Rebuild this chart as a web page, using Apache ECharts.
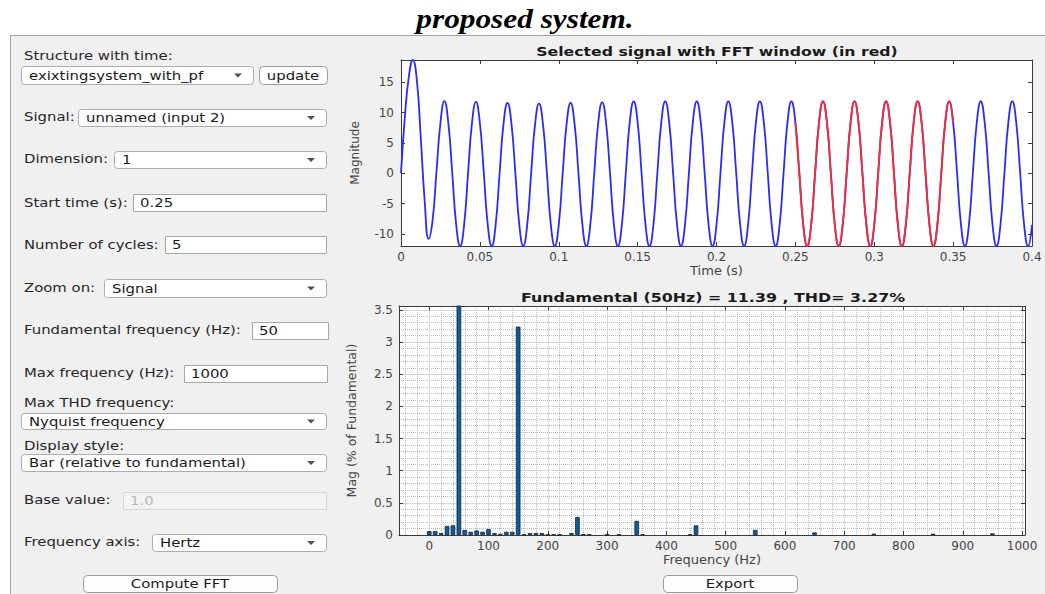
<!DOCTYPE html>
<html>
<head>
<meta charset="utf-8">
<script src="https://cdn.jsdelivr.net/npm/echarts@6/dist/echarts.min.js"></script>
<style>
html,body{margin:0;padding:0;background:#fff;}
#wrap{position:relative;width:1045px;height:594px;overflow:hidden;background:#fff;}
#panel{position:absolute;left:10px;top:35px;width:1035px;height:559px;background:#f0f0f0;border-top:1px solid #a3a3a3;border-left:1px solid #a3a3a3;box-sizing:border-box;}
#chart{position:absolute;left:0;top:0;width:1045px;height:594px;}
</style>
</head>
<body>
<div id="wrap"><div id="panel"></div><div id="chart"></div></div>
<script>
// ---------------- data ----------------
// Signal sampled every SAMPLE_STEP seconds (t = 0 ... 0.4 s)
const SAMPLE_STEP = 0.0025;
const signalValues = [
  0, 9.5, 16, 18.7, 15.5, 6, -4.5, -10.8,
  -7.8, 0.3, 8.3, 11.9, 8.3, 0, -8.5, -12,
  -8.5, 0, 8.3, 11.8, 8.3, 0, -8.5, -12,
  -8.5, 0, 8.2, 11.6, 8.2, 0, -8.5, -12,
  -8.5, 0, 8.1, 11.5, 8.1, 0, -8.5, -12,
  -8.5, 0, 8.2, 11.6, 8.2, 0, -8.5, -12,
  -8.5, 0, 8.3, 11.7, 8.3, 0, -8.5, -12,
  -8.5,
  0, 8.4, 11.85, 8.4, 0, -8.5, -12, -8.5,
  0, 8.4, 11.85, 8.4, 0, -8.5, -12, -8.5,
  0, 8.4, 11.85, 8.4, 0, -8.5, -12, -8.5,
  0, 8.4, 11.85, 8.4, 0, -8.5, -12, -8.5,
  0, 8.4, 11.85, 8.4, 0, -8.5, -12, -8.5,
  0, 8.4, 11.85, 8.4, 0, -8.5, -12, -8.5,
  0, 8.4, 11.85, 8.4, 0, -8.5, -12, -8.5,
  0, 8.4, 11.85, 8.4, 0, -8.5, -12, -8.5,
  0, 8.4, 11.85, 8.4, 0, -8.5, -12, -8.5,
  0, 8.4, 11.85, 8.4, 0, -8.5, -12, -8.5,
  0, 8.4, 11.85, 8.4, 0, -8.5, -12, -8.5,
  0, 8.4, 11.85, 8.4, 0, -8.5, -12, -8.5,
  0, 8.4, 11.85, 8.4, 0, -8.5, -12, -8.5
];
const FUNDAMENTAL_HZ = 50;
const WINDOW_START = 0.25;
const WINDOW_CYCLES = 5;
const FUND_MAG = 11.39;
const THD_PCT = 3.27;

// FFT magnitudes (% of fundamental), one per FREQ_RESOLUTION Hz bin, 0 ... 1000 Hz
const FREQ_RESOLUTION = 10;
const harmonicMag = [
  0.06, 0.06, 0.03, 0.14, 0.15, 100, 0.08, 0.05, 0.07, 0.05,   // 0-90
  0.09, 0.03, 0.02, 0.05, 0.05, 3.24, 0.01, 0.03, 0.03, 0.03,  // 100-190
  0.01, 0.01, 0.01, 0, 0.03, 0.28, 0.015, 0.01, 0, 0,          // 200-290
  0.008, 0, 0.006, 0, 0, 0.22, 0.01, 0, 0, 0,                  // 300-390
  0, 0, 0, 0, 0.01, 0.15, 0, 0, 0, 0,                          // 400-490
  0, 0, 0, 0, 0, 0.08, 0, 0, 0, 0,                             // 500-590
  0, 0, 0, 0, 0, 0.04, 0, 0, 0, 0,                             // 600-690
  0, 0, 0, 0, 0, 0.02, 0, 0, 0, 0,                             // 700-790
  0, 0, 0, 0, 0, 0.02, 0, 0, 0, 0,                             // 800-890
  0, 0, 0, 0, 0, 0.025, 0, 0, 0, 0,                            // 900-990
  0                                                            // 1000
];

// ---------------- build series data ----------------
const signalData = signalValues.map((v, i) => [+(i * SAMPLE_STEP).toFixed(4), v]);
const WINDOW_END = WINDOW_START + WINDOW_CYCLES / FUNDAMENTAL_HZ;
const windowData = signalData.filter(p => p[0] >= WINDOW_START - 1e-9 && p[0] <= WINDOW_END + 1e-9);
// zero-height bins draw nothing in the original, so they are left out
const barData = harmonicMag.map((v, i) => [i * FREQ_RESOLUTION, v]).filter(p => p[1] > 0);

// ---------------- styling helpers ----------------
const FONT = 'DejaVu Sans';
const SX = 1.24;
const axisLine = { show: true, onZero: false, lineStyle: { color: '#3a3a3a', width: 1 } };
const axisTick = { show: true, inside: true, length: 4, lineStyle: { color: '#3a3a3a', width: 1 } };
const tickLabel = { color: '#444', fontFamily: FONT, fontSize: 12 };
const nameStyle = { color: '#444', fontFamily: FONT, fontSize: 13 };
const plainNum = v => String(+v.toFixed(6));

function txt(x, y, text, o) {
  o = o || {};
  const align = o.align || 'left';
  return {
    type: 'text', x: x, y: y, scaleX: o.sx || SX, z: 20,
    style: {
      text: text, font: o.font || ('12px "' + FONT + '"'), fill: o.color || '#262626',
      textAlign: align, align: align, textVerticalAlign: 'middle', verticalAlign: 'middle'
    }
  };
}
function dropdown(x, y, w, h, text) {
  const cy = y + h / 2;
  return [
    { type: 'rect', z: 10, shape: { x: x + 0.5, y: y + 0.5, width: w, height: h, r: 3 }, style: { fill: '#fff', stroke: '#adadad', lineWidth: 1 } },
    txt(x + 8, cy + 0.5, text, { color: '#1a1a1a' }),
    { type: 'polygon', z: 20, shape: { points: [[x + w - 19, cy - 1.5], [x + w - 11, cy - 1.5], [x + w - 15, cy + 2.5]] }, style: { fill: '#505050' } }
  ];
}
function editBox(x, y, w, h, text, disabled) {
  return [
    { type: 'rect', z: 10, shape: { x: x + 0.5, y: y + 0.5, width: w, height: h }, style: { fill: disabled ? '#f3f3f3' : '#fff', stroke: disabled ? '#d4d4d4' : '#a8a8a8', lineWidth: 1 } },
    txt(x + 7, y + h / 2 + 0.5, text, { color: disabled ? '#b8b8b8' : '#1a1a1a' })
  ];
}
function button(x, y, w, h, text) {
  return [
    { type: 'rect', z: 10, shape: { x: x + 0.5, y: y + 0.5, width: w, height: h, r: 4 }, style: { fill: '#fdfdfd', stroke: '#9c9c9c', lineWidth: 1 } },
    txt(x + w / 2, y + h / 2 + 0.5, text, { align: 'center', color: '#1a1a1a' })
  ];
}

const panel = [].concat(
  txt(24, 56, 'Structure with time:'),
  dropdown(21, 66, 232, 18, 'exixtingsystem_with_pf'),
  button(259, 66, 68, 18, 'update'),
  txt(24, 117, 'Signal:'),
  dropdown(78, 109, 248, 17, 'unnamed (input 2)'),
  txt(24, 159, 'Dimension:'),
  dropdown(114, 151, 212, 17, '1'),
  txt(24, 203, 'Start time (s):'),
  editBox(133, 194, 193, 17, String(WINDOW_START)),
  txt(24, 245, 'Number of cycles:'),
  editBox(165, 236, 161, 17, String(WINDOW_CYCLES)),
  txt(24, 288, 'Zoom on:'),
  dropdown(104, 279, 222, 18, 'Signal'),
  txt(24, 330, 'Fundamental frequency (Hz):'),
  editBox(252, 322, 76, 17, String(FUNDAMENTAL_HZ)),
  txt(24, 373, 'Max frequency (Hz):'),
  editBox(184, 365, 143, 17, '1000'),
  txt(24, 403, 'Max THD frequency:'),
  dropdown(21, 413, 305, 16, 'Nyquist frequency'),
  txt(24, 446, 'Display style:'),
  dropdown(21, 454, 305, 17, 'Bar (relative to fundamental)'),
  txt(24, 500, 'Base value:'),
  editBox(123, 492, 203, 17, '1.0', true),
  txt(24, 542, 'Frequency axis:'),
  dropdown(152, 534, 174, 17, 'Hertz'),
  button(83, 575, 194, 17, 'Compute FFT'),
  button(663, 575, 134, 17, 'Export'),
  // figure caption and axes titles
  txt(525, 19, 'proposed system.', { align: 'center', sx: 1.16, color: '#000', font: 'italic bold 27px "Liberation Serif"' }),
  txt(717, 51, 'Selected signal with FFT window (in red)', { align: 'center', sx: 1.21, color: '#1a1a1a', font: 'bold 13px "' + FONT + '"' }),
  txt(713, 298, 'Fundamental (' + FUNDAMENTAL_HZ + 'Hz) = ' + FUND_MAG.toFixed(2) + ' , THD= ' + THD_PCT.toFixed(2) + '%', { align: 'center', sx: 1.22, color: '#1a1a1a', font: 'bold 13px "' + FONT + '"' })
);

// ---------------- chart ----------------
const chart = echarts.init(document.getElementById('chart'), null, { renderer: 'svg', width: 1045, height: 594 });
const option = {
  animation: false,
  backgroundColor: 'transparent',
  textStyle: { fontFamily: FONT },
  grid: [
    { left: 401, top: 60, width: 631, height: 186, show: true, backgroundColor: '#fff', borderWidth: 0 },
    { left: 399, top: 306, width: 626, height: 229, show: true, backgroundColor: '#fff', borderWidth: 0 }
  ],
  xAxis: [
    { gridIndex: 0, type: 'value', position: 'bottom', min: 0, max: 0.4, interval: 0.05,
      axisLine: axisLine, axisTick: axisTick, splitLine: { show: false },
      axisLabel: Object.assign({ margin: 5, formatter: plainNum }, tickLabel),
      name: 'Time (s)', nameLocation: 'middle', nameGap: 17, nameTextStyle: nameStyle },
    { gridIndex: 0, type: 'value', position: 'top', min: 0, max: 0.4, interval: 0.05,
      axisLine: axisLine, axisTick: axisTick, splitLine: { show: false }, axisLabel: { show: false } },
    { gridIndex: 1, type: 'value', position: 'bottom', min: -51, max: 1005, splitNumber: 10,
      axisLine: axisLine, axisTick: axisTick,
      axisLabel: Object.assign({ margin: 5, showMinLabel: false, showMaxLabel: false, formatter: plainNum }, tickLabel),
      splitLine: { show: true, lineStyle: { color: '#d8d8d8', width: 1 } },
      minorTick: { show: false, splitNumber: 5 },
      minorSplitLine: { show: true, lineStyle: { color: '#bdbdbd', width: 1, type: 'dotted' } },
      name: 'Frequency (Hz)', nameLocation: 'middle', nameGap: 15, nameTextStyle: nameStyle },
    { gridIndex: 1, type: 'value', position: 'top', min: -51, max: 1005, splitNumber: 10,
      axisLine: axisLine, axisTick: axisTick, axisLabel: { show: false }, splitLine: { show: false } }
  ],
  yAxis: [
    { gridIndex: 0, type: 'value', position: 'left', min: -12, max: 18.7, splitNumber: 6,
      axisLine: axisLine, axisTick: axisTick, splitLine: { show: false },
      axisLabel: Object.assign({ margin: 7, showMinLabel: false, showMaxLabel: false, formatter: plainNum }, tickLabel),
      name: 'Magnitude', nameLocation: 'middle', nameGap: 40, nameRotate: 90, nameTextStyle: Object.assign({}, nameStyle, { fontSize: 12 }) },
    { gridIndex: 0, type: 'value', position: 'right', min: -12, max: 18.7, splitNumber: 6,
      axisLine: axisLine, axisTick: axisTick, splitLine: { show: false }, axisLabel: { show: false } },
    { gridIndex: 1, type: 'value', position: 'left', min: 0, max: 3.56, interval: 0.5,
      axisLine: axisLine, axisTick: axisTick,
      axisLabel: Object.assign({ margin: 6, showMaxLabel: false, formatter: plainNum }, tickLabel),
      splitLine: { show: true, lineStyle: { color: '#d8d8d8', width: 1 } },
      minorTick: { show: false, splitNumber: 5 },
      minorSplitLine: { show: true, lineStyle: { color: '#bdbdbd', width: 1, type: 'dotted' } },
      name: 'Mag (% of Fundamental)', nameLocation: 'middle', nameGap: 41, nameRotate: 90, nameTextStyle: Object.assign({}, nameStyle, { fontSize: 12.5 }) },
    { gridIndex: 1, type: 'value', position: 'right', min: 0, max: 3.56, interval: 0.5,
      axisLine: axisLine, axisTick: axisTick, axisLabel: { show: false }, splitLine: { show: false } }
  ],
  series: [
    { name: 'signal', type: 'line', xAxisIndex: 0, yAxisIndex: 0, data: signalData,
      smooth: true, symbol: 'none', showSymbol: false, clip: true, z: 3,
      lineStyle: { color: '#2a2aff', width: 1.8 } },
    { name: 'FFT window', type: 'line', xAxisIndex: 0, yAxisIndex: 0, data: windowData,
      smooth: true, symbol: 'none', showSymbol: false, clip: true, z: 4,
      lineStyle: { color: '#ff2a2a', width: 1.8 } },
    { name: 'harmonics', type: 'bar', xAxisIndex: 2, yAxisIndex: 2, data: barData,
      barWidth: 4.6, clip: true, z: 3,
      itemStyle: { color: '#0f5c96', borderColor: '#0b2540', borderWidth: 0.8 } }
  ],
  graphic: { elements: panel }
};
chart.setOption(option);
</script>
</body>
</html>
